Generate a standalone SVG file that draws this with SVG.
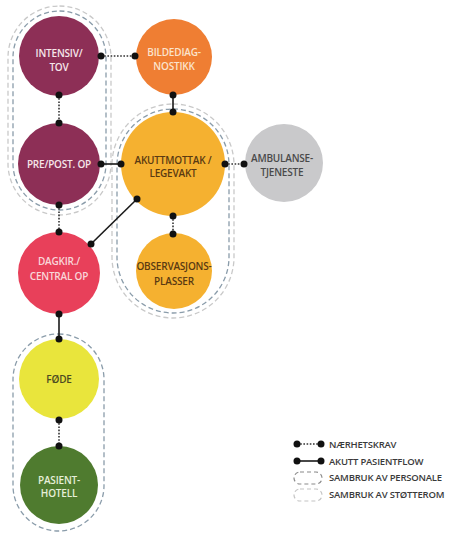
<svg xmlns="http://www.w3.org/2000/svg" width="451" height="534" viewBox="0 0 451 534">
<style>
.lbl{font-family:"Open Sans","Liberation Sans",sans-serif;font-size:10px;font-weight:600;text-anchor:middle;letter-spacing:-0.2px}
.lt{fill:#f6e6ea}
.dk{fill:#5a3a12}
.leg{font-family:"Open Sans","Liberation Sans",sans-serif;font-size:9.5px;font-weight:600;fill:#3a3a3a;letter-spacing:-0.2px}
.near{stroke:#333;stroke-width:1.6;stroke-dasharray:1.6 1.6;fill:none}
.flow{stroke:#1a1a1a;stroke-width:1.6;fill:none}
.pers{fill:none;stroke:#8a9caa;stroke-width:1.3;stroke-dasharray:5 3}
.stot{fill:none;stroke:#c9c9c9;stroke-width:1.3;stroke-dasharray:5 3}
.dot{fill:#111}
</style>
<rect width="451" height="534" fill="#ffffff"/>
<g id="groups">
<rect class="stot" x="8" y="6" width="103" height="209" rx="51.5"/>
<rect class="pers" x="13" y="11" width="93" height="199" rx="46.5"/>
<rect class="stot" x="112" y="104" width="122" height="214" rx="61"/>
<rect class="pers" x="117" y="109" width="112" height="204" rx="56"/>
<rect class="pers" x="13" y="334" width="91" height="197" rx="45.5" stroke="#8e92b2"/>
</g>
<g id="intensiv"><circle cx="59" cy="56" r="40" fill="#8d2f56"/><text class="lbl lt" x="59" y="57">INTENSIV/</text><text class="lbl lt" x="59" y="70.5">TOV</text></g>
<g id="bildediagnostikk"><circle cx="174" cy="57" r="38" fill="#ef7e33"/><text class="lbl" fill="#fbe3cc" x="174" y="56">BILDEDIAG-</text><text class="lbl" fill="#fbe3cc" x="174" y="69.5">NOSTIKK</text></g>
<g id="prepost"><circle cx="59" cy="164" r="41" fill="#8d2f56"/><text class="lbl lt" x="59" y="168">PRE/POST. OP</text></g>
<g id="akuttmottak"><circle cx="173" cy="164" r="52" fill="#f5b130"/><text class="lbl dk" x="173" y="163.5">AKUTTMOTTAK /</text><text class="lbl dk" x="173" y="177">LEGEVAKT</text></g>
<g id="ambulanse"><circle cx="284" cy="163" r="39" fill="#c9c9cb"/><text class="lbl" fill="#4a4a4a" x="282" y="161.5">AMBULANSE-</text><text class="lbl" fill="#4a4a4a" x="282" y="175.5">TJENESTE</text></g>
<g id="observasjon"><circle cx="174" cy="271" r="38" fill="#f5b130"/><text class="lbl dk" x="174" y="270">OBSERVASJONS-</text><text class="lbl dk" x="174" y="285">PLASSER</text></g>
<g id="dagkir"><circle cx="59" cy="273" r="41" fill="#e8405a"/><text class="lbl" fill="#f9d6d9" x="59" y="265">DAGKIR./</text><text class="lbl" fill="#f9d6d9" x="59" y="280">CENTRAL OP</text></g>
<g id="fode"><circle cx="59" cy="379" r="40" fill="#e9e53c"/><text class="lbl" fill="#4b4a22" x="59" y="383">FØDE</text></g>
<g id="pasienthotell"><circle cx="59" cy="485" r="39" fill="#4f7b2f"/><text class="lbl" fill="#e6efd9" x="59" y="483.5">PASIENT-</text><text class="lbl" fill="#e6efd9" x="59" y="497">HOTELL</text></g>
<g id="connectors">
<line class="near" x1="101" y1="56" x2="135" y2="56"/>
<line class="near" x1="59" y1="95" x2="59" y2="123"/>
<line class="flow" x1="173" y1="95" x2="173" y2="112"/>
<line class="flow" x1="101" y1="164" x2="121" y2="164"/>
<line class="near" x1="225" y1="164" x2="244" y2="164"/>
<line class="near" x1="173" y1="216" x2="173" y2="234"/>
<line class="near" x1="59" y1="205" x2="59" y2="232"/>
<line class="flow" x1="137" y1="199" x2="91" y2="244"/>
<line class="flow" x1="59" y1="314" x2="59" y2="339"/>
<line class="near" x1="59" y1="420" x2="59" y2="446"/>
<g class="dot">
<circle cx="101" cy="56" r="3.5"/><circle cx="135" cy="56" r="3.5"/>
<circle cx="59" cy="95" r="3.5"/><circle cx="59" cy="123" r="3.5"/>
<circle cx="173" cy="95" r="3.5"/><circle cx="173" cy="112" r="3.5"/>
<circle cx="101" cy="164" r="3.5"/><circle cx="121" cy="164" r="3.5"/>
<circle cx="225" cy="164" r="3.5"/><circle cx="244" cy="164" r="3.5"/>
<circle cx="173" cy="216" r="3.5"/><circle cx="173" cy="234" r="3.5"/>
<circle cx="59" cy="205" r="3.5"/><circle cx="59" cy="232" r="3.5"/>
<circle cx="137" cy="199" r="3.5"/><circle cx="91" cy="244" r="3.5"/>
<circle cx="59" cy="314" r="3.5"/><circle cx="59" cy="339" r="3.5"/>
<circle cx="59" cy="420" r="3.5"/><circle cx="59" cy="446" r="3.5"/>
</g>
</g>
<g id="legend">
<line class="near" x1="297" y1="444" x2="321" y2="444"/>
<circle class="dot" cx="297" cy="444" r="3.5"/><circle class="dot" cx="321" cy="444" r="3.5"/>
<text class="leg" x="329" y="447.5">NÆRHETSKRAV</text>
<line class="flow" x1="297" y1="461" x2="321" y2="461"/>
<circle class="dot" cx="297" cy="461" r="3.5"/><circle class="dot" cx="321" cy="461" r="3.5"/>
<text class="leg" x="329" y="464.5">AKUTT PASIENTFLOW</text>
<rect x="294" y="472" width="28" height="12" rx="6" fill="none" stroke="#8a8a8a" stroke-width="1.2" stroke-dasharray="4 3"/>
<text class="leg" x="329" y="480.5">SAMBRUK AV PERSONALE</text>
<rect x="294" y="489" width="28" height="12" rx="6" fill="none" stroke="#c4c4c4" stroke-width="1.2" stroke-dasharray="4 3"/>
<text class="leg" x="329" y="497.5">SAMBRUK AV STØTTEROM</text>
</g>
</svg>
